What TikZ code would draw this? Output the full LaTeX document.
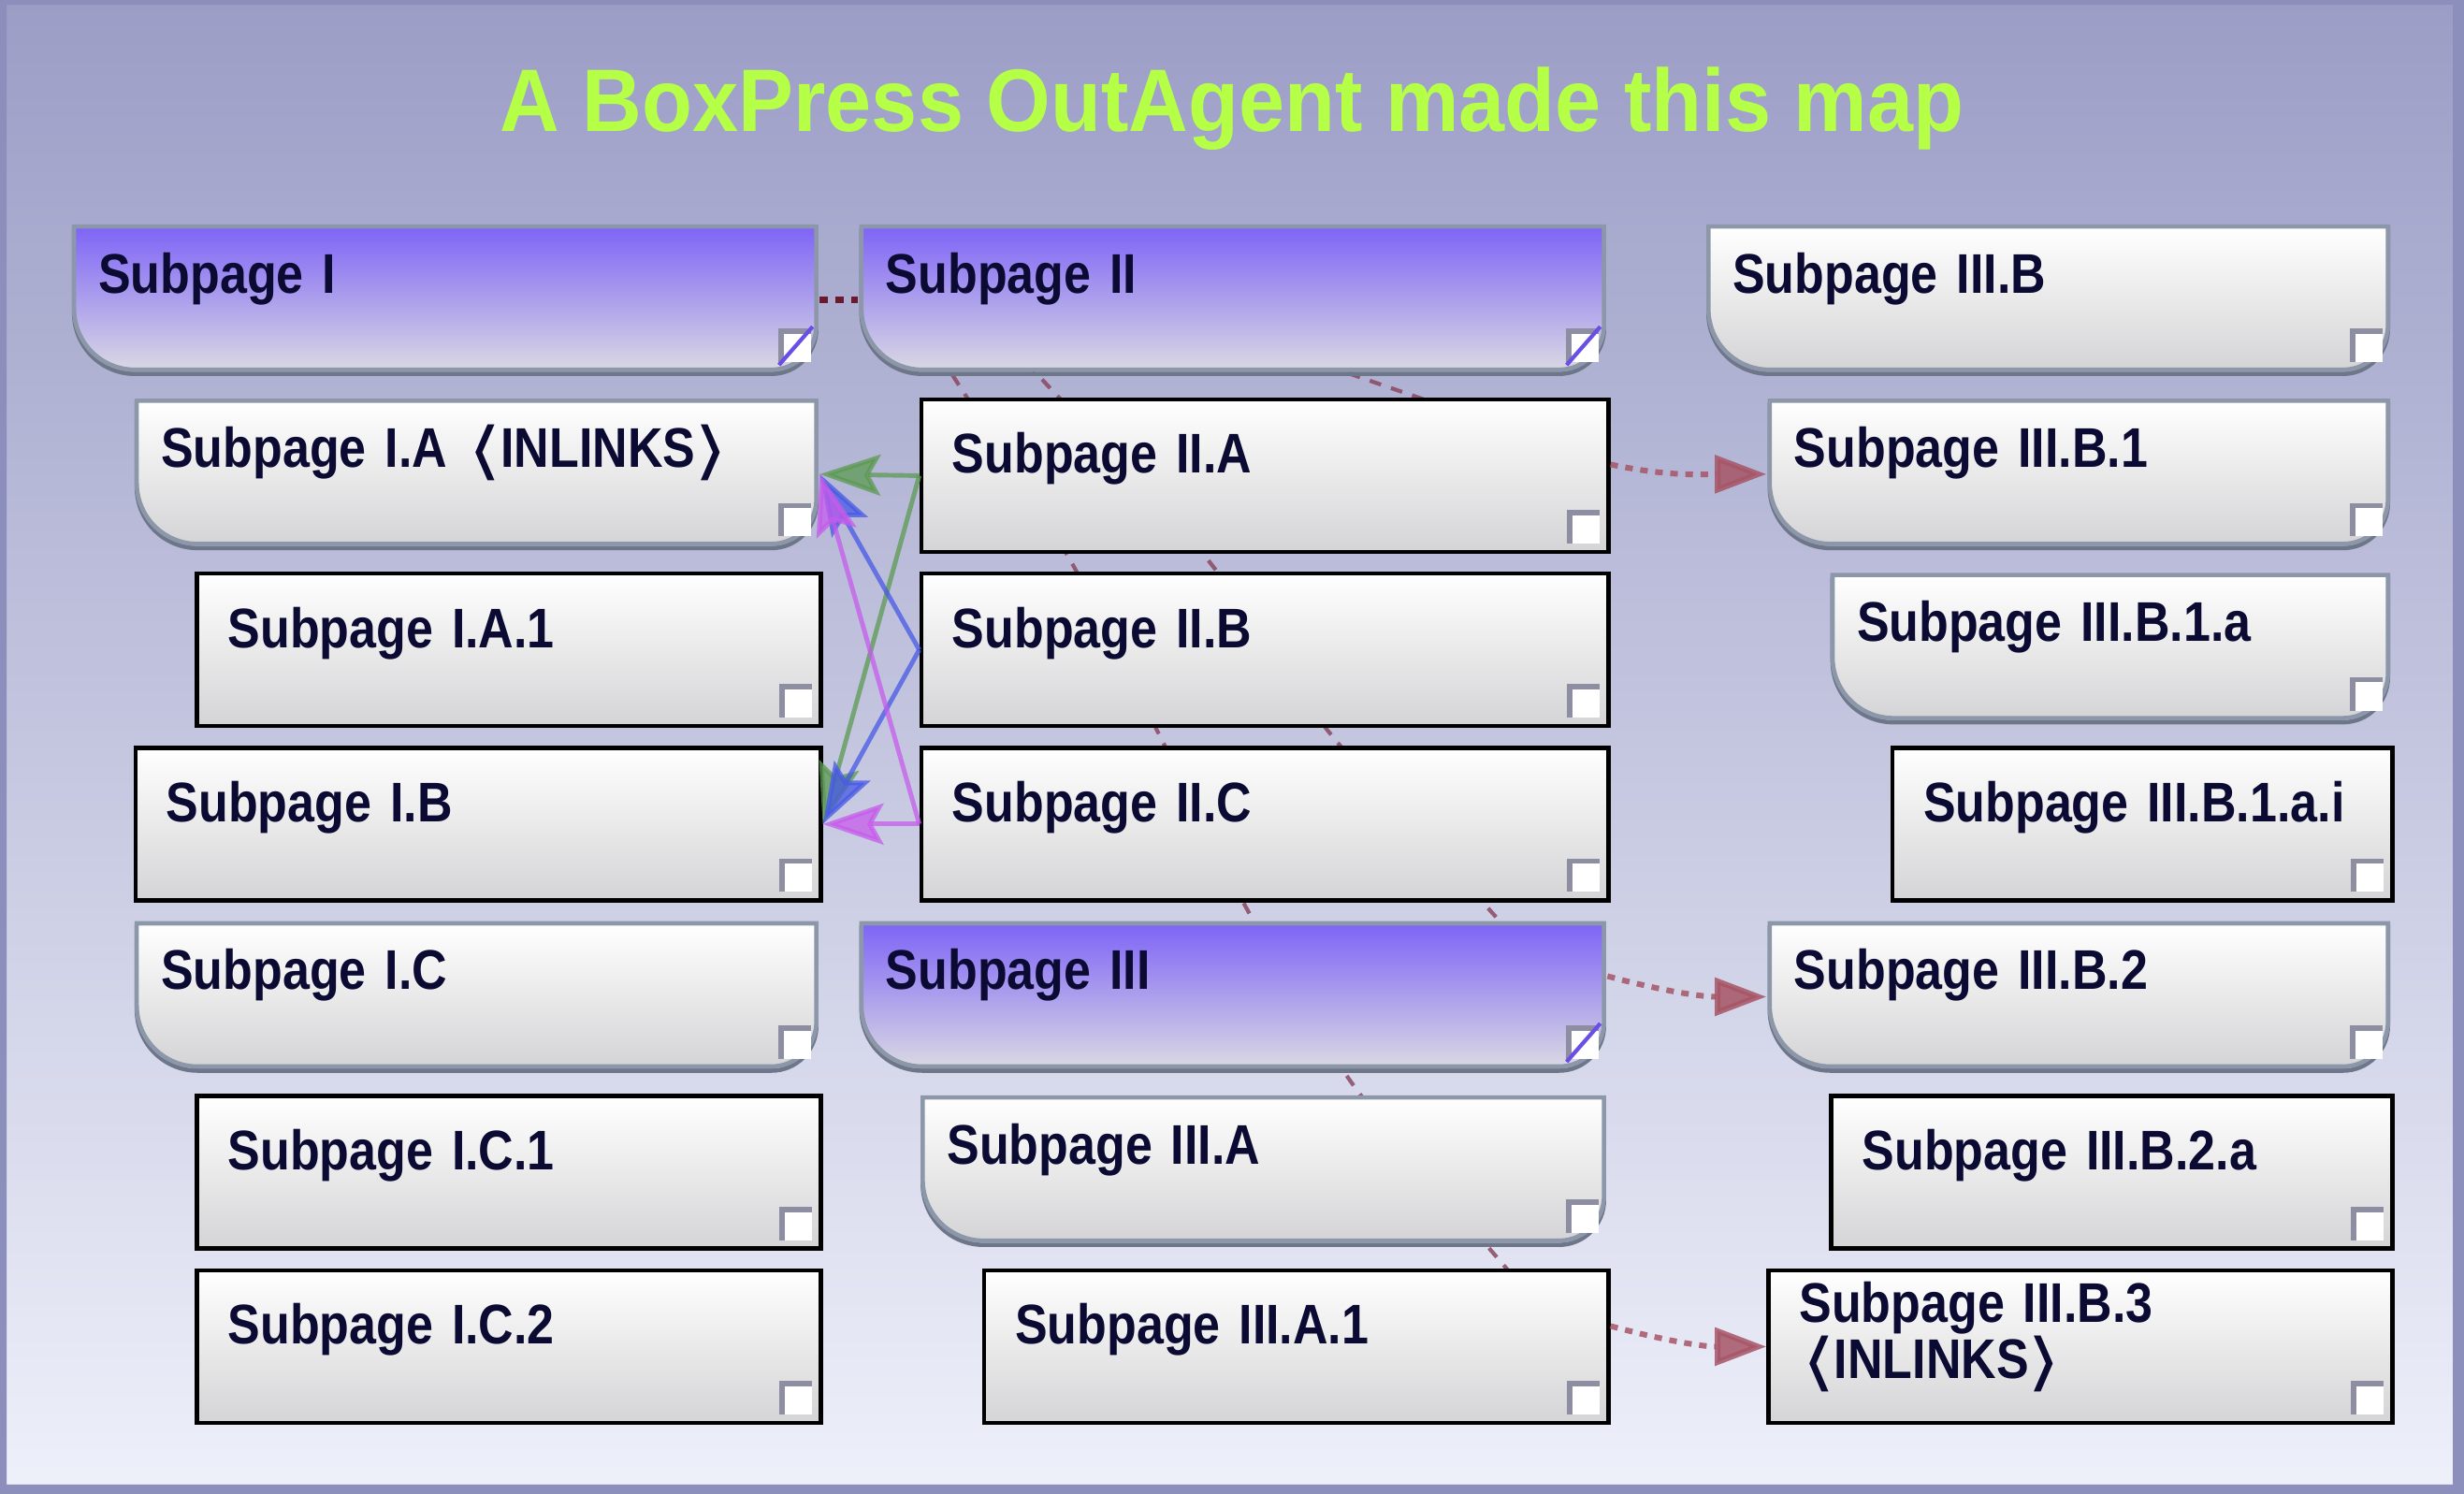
\documentclass[tikz,border=0pt]{standalone}
\usepackage{fontspec}
\usetikzlibrary{arrows.meta,calc}

\newfontfamily\mapfont{Liberation Sans}[FakeStretch=0.87]
\newfontfamily\titlefont{Liberation Sans}[FakeStretch=0.93]
\newfontfamily\brfont{DejaVu Sans}[FakeStretch=0.87]

\definecolor{bgtop}{HTML}{9B9DC6}
\definecolor{bgbot}{HTML}{EEF0FA}
\definecolor{framec}{HTML}{8C8EBB}
\definecolor{titlec}{HTML}{B5FF47}
\definecolor{navy}{HTML}{0B0A33}
\definecolor{edgec}{HTML}{8D97AA}
\definecolor{shadowc}{HTML}{6E768A}
\definecolor{boxbot}{HTML}{D4D4D6}
\definecolor{purptop}{HTML}{7E64F6}
\definecolor{purpbot}{HTML}{D9D8E3}
\definecolor{iconc}{HTML}{8E8EA2}
\definecolor{slashc}{HTML}{6A4FE6}
\definecolor{greenc}{HTML}{5C9A52}
\definecolor{bluec}{HTML}{4759E6}
\definecolor{violetc}{HTML}{C65CEB}
\definecolor{outred}{HTML}{A65566}
\definecolor{hidred}{HTML}{8A4862}
\definecolor{seqred}{HTML}{6A1A2C}

\pgfdeclarelayer{back}
\pgfdeclarelayer{links}
\pgfsetlayers{back,links,main}

\newcommand\boxfont{\mapfont\bfseries\fontsize{17pt}{16.8pt}\selectfont\lineskiplimit=-4pt\relax}
\newcommand\openbr{{\brfont\bfseries\char"276C}\kern-0.1em}
\newcommand\closebr{\kern-0.1em{\brfont\bfseries\char"276D}}

% page icon in the lower right corner of a box
\newcommand\pageicon[1]{%
  \coordinate (ic) at ([shift={(-0.09,#1)}]path picture bounding box.south east);
  \fill[white] (ic) rectangle ++(-0.32,0.33);
  \draw[iconc,line width=1.6pt] ([xshift=-0.32cm]ic) -- ++(0,0.33) -- ++(0.32,0);}
% outline with the round lower corners
\newcommand\wavyshape[2]{%
  \coordinate (nw) at ([shift={(0.03,-0.03)}]path picture bounding box.north west);
  \coordinate (se) at ([shift={(-0.03,0.07)}]path picture bounding box.south east);
  \coordinate (sw) at (nw |- se);
  \draw[draw=edgec,line width=1.3pt,top color=#1,bottom color=#2,
        preaction={draw=shadowc,line width=1.3pt,transform canvas={yshift=-0.45mm}}]
    (nw) -- (nw -| se) -- ([yshift=4.8mm]se) arc[start angle=0,end angle=-90,radius=4.8mm]
    -- ([xshift=6.5mm]sw) arc[start angle=270,end angle=180,radius=6.5mm] -- cycle;}

\begin{document}
\begin{tikzpicture}[
  boxtext/.style={anchor=north west, inner ysep=0pt, align=left, text=navy, font=\boxfont},
  plainbox/.style={boxtext, inner xsep=0.33cm, text width={#1cm-0.66cm},
    text height=0.79cm, text depth=0.84cm, draw=black, line width=1.3pt,
    top color=white, bottom color=boxbot, path picture={\pageicon{0.09}}},
  wavybox/.style={boxtext, inner xsep=0.29cm, text width={#1cm-0.58cm},
    text height=0.74cm, text depth=0.89cm,
    path picture={\wavyshape{white}{boxbot}\pageicon{0.15}}},
  topicbox/.style={boxtext, inner xsep=0.29cm, text width={#1cm-0.58cm},
    text height=0.74cm, text depth=0.89cm,
    path picture={\wavyshape{purptop}{purpbot}\pageicon{0.15}
      \draw[slashc,line width=1.2pt] ([shift={(-0.34,-0.03)}]ic) -- ([shift={(0.02,0.38)}]ic);}},
  inlink/.style={line width=1.4pt, opacity=0.75, -{Stealth[length=6.5mm,width=4.4mm,inset=1.2mm]}},
  outlink/.style={draw=outred, line width=1.7pt, dash pattern=on 2.3pt off 2.3pt, opacity=0.85,
    -{Triangle[length=5.5mm,width=4mm]}},
  hidlink/.style={draw=hidred, line width=1.2pt, dash pattern=on 3.6pt off 3.2pt, opacity=0.85},
  seqlink/.style={draw=seqred, line width=2pt, dash pattern=on 2.4pt off 2.4pt}
]
  % page
  \useasboundingbox (0,0) rectangle (26.34,15.97);
  \begin{pgfonlayer}{back}
    \shade[top color=bgtop, bottom color=bgbot] (0,0) rectangle (26.34,15.97);
    \fill[framec, even odd rule] (0,0) rectangle (26.34,15.97) (0.07,0.1) rectangle (26.22,15.92);
  \end{pgfonlayer}

  \node[font=\titlefont\bfseries\fontsize{27pt}{30pt}\selectfont, text=titlec, anchor=base]
    (title) at (13.17,14.56) {A BoxPress OutAgent made this map};

  % column I
  \node[topicbox=7.995] (sI)   at (0.755,13.585) {Subpage I};
  \node[wavybox=7.325]  (sIA)  at (1.425,11.723) {Subpage I.A \openbr INLINKS\closebr};
  \node[plainbox=6.667] (sIA1) at (2.083,9.861)  {Subpage I.A.1};
  \node[plainbox=7.325] (sIB)  at (1.425,7.999)  {Subpage I.B};
  \node[wavybox=7.325]  (sIC)  at (1.425,6.137)  {Subpage I.C};
  \node[plainbox=6.667] (sIC1) at (2.083,4.275)  {Subpage I.C.1};
  \node[plainbox=6.667] (sIC2) at (2.083,2.413)  {Subpage I.C.2};

  % column II
  \node[topicbox=7.998] (sII)    at (9.172,13.585) {Subpage II};
  \node[plainbox=7.343] (sIIA)   at (9.827,11.723) {Subpage II.A};
  \node[plainbox=7.343] (sIIB)   at (9.827,9.861)  {Subpage II.B};
  \node[plainbox=7.343] (sIIC)   at (9.827,7.999)  {Subpage II.C};
  \node[topicbox=7.998] (sIII)   at (9.172,6.137)  {Subpage III};
  \node[wavybox=7.343]  (sIIIA)  at (9.827,4.275)  {Subpage III.A};
  \node[plainbox=6.671] (sIIIA1) at (10.499,2.413) {Subpage III.A.1};

  % column III
  \node[wavybox=7.324]  (sIIIB)    at (18.226,13.585) {Subpage III.B};
  \node[wavybox=6.669]  (sIIIB1)   at (18.881,11.723) {Subpage III.B.1};
  \node[wavybox=5.997]  (sIIIB1a)  at (19.553,9.861)  {Subpage III.B.1.a};
  \node[plainbox=5.342] (sIIIB1ai) at (20.208,7.999)  {Subpage III.B.1.a.i};
  \node[wavybox=6.669]  (sIIIB2)   at (18.881,6.137)  {Subpage III.B.2};
  \node[plainbox=5.997] (sIIIB2a)  at (19.553,4.275)  {Subpage III.B.2.a};
  \node[plainbox=6.669, text height=0.56cm, text depth=1.07cm]
    (sIIIB3) at (18.881,2.413) {Subpage III.B.3\\\openbr INLINKS\closebr};

  % links hidden behind the boxes
  \begin{pgfonlayer}{links}
    \draw[seqlink] (sI.east) -- (sII.west);
    \coordinate (aStart) at ($(sII.south west)+(0.75,0.42)$);
    \coordinate (aEnd)   at ($(sIIIA1.north east)+(-0.77,-0.36)$);
    \coordinate (bStart) at ($(sII.south west)+(1.64,0.32)$);
    \coordinate (bEnd)   at ($(sIII.north east)+(-0.87,-0.34)$);
    \coordinate (cStart) at ($(sII.south east)+(-3.67,0.35)$);
    \coordinate (cEnd)   at ($(sIIA.north east)+(-1.57,-0.17)$);
    \draw[hidlink] plot[smooth,tension=0.5] coordinates {(aStart) (10.24,11.87) (11.43,10.00)
      (12.38,8.14) (13.32,6.27) (14.46,4.38) (16.01,2.52) (aEnd)};
    \draw[hidlink] plot[smooth,tension=0.5] coordinates {(bStart) (11.18,11.87) (12.90,10.00)
      (14.21,8.14) (15.90,6.27) (bEnd)};
    \draw[hidlink] (cStart) -- (cEnd);
  \end{pgfonlayer}

  % inlinks into I.A and I.B
  \draw[inlink, greenc]  (sIIA.west) -- (sIA.east);
  \draw[inlink, greenc]  (sIIA.west) -- (sIB.east);
  \draw[inlink, bluec]   (sIIB.west) -- (sIA.east);
  \draw[inlink, bluec]   (sIIB.west) -- (sIB.east);
  \draw[inlink, violetc] (sIIC.west) -- (sIA.east);
  \draw[inlink, violetc] (sIIC.west) -- (sIB.east);

  % outlinks to column III
  \draw[outlink] ([yshift=1.2mm]sIIA.east)   to[out=-12,in=180] (sIIIB1.west);
  \draw[outlink] ([yshift=2.2mm]sIII.east)   to[out=-15,in=180] (sIIIB2.west);
  \draw[outlink] ([yshift=2.2mm]sIIIA1.east) to[out=-15,in=180] (sIIIB3.west);
\end{tikzpicture}
\end{document}
